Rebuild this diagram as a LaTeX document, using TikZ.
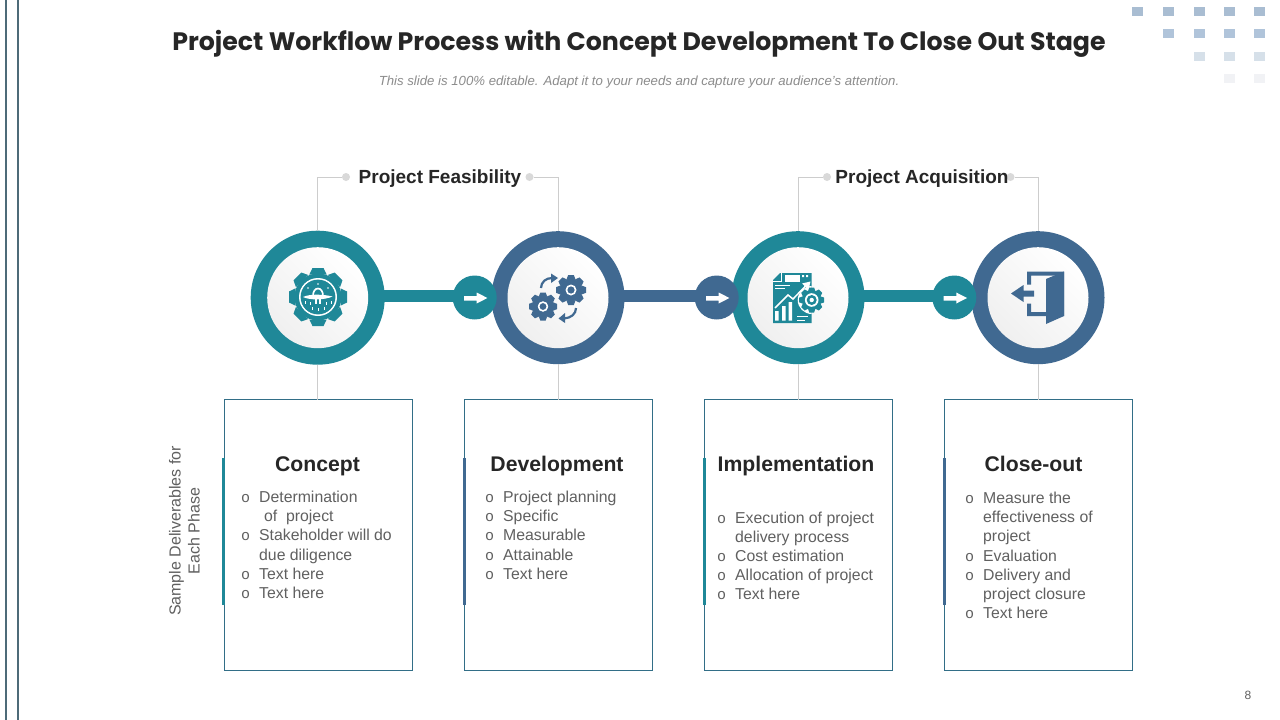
\documentclass[tikz,border=0pt]{standalone}
\usepackage{fontspec}
\setmainfont{Liberation Sans}
\newfontfamily\titlefont{Poppins}
\newfontfamily\bulfont{Liberation Mono}
\definecolor{tealc}{RGB}{31,136,152}
\definecolor{bluec}{RGB}{64,105,145}
\definecolor{greyl}{RGB}{205,205,205}
\definecolor{dotc}{RGB}{217,217,217}
\definecolor{bodyc}{RGB}{96,96,96}
\definecolor{headc}{RGB}{38,38,38}
\definecolor{railc}{RGB}{77,107,120}
\definecolor{boxc}{RGB}{50,110,135}
\definecolor{sqa}{RGB}{169,189,210}
\definecolor{sqb}{RGB}{176,196,218}
\definecolor{sqc}{RGB}{214,224,233}
\definecolor{sqd}{RGB}{241,242,245}
\tikzset{
  ring/.style={circle,minimum size=#1,inner sep=0pt,outer sep=0pt},
  disc/.style={circle,minimum size=101pt,inner sep=0pt,outer sep=0pt,shading=axis,left color=white,right color=white!94!black,shading angle=315},
  hop/.style={circle,minimum size=44pt,inner sep=0pt,outer sep=0pt,fill=#1},
  bar/.style={line width=12pt,#1},
  leader/.style={draw=greyl,line width=.9pt},
  tick/.style={circle,minimum size=8pt,inner sep=0pt,fill=dotc},
  card/.style={draw=boxc,line width=.9pt,fill=white,minimum width=188pt,minimum height=271pt,inner sep=0pt,outer sep=0pt},
  phase/.style={font=\fontsize{21.2}{25}\selectfont\bfseries,text=headc,inner sep=0pt,anchor=base},
  items/.style={font=\fontsize{15.8}{19.15}\selectfont,text=bodyc,align=left,anchor=north west,inner sep=0pt},
  group/.style={font=\fontsize{19}{23}\selectfont\bfseries,text=headc,inner sep=0pt,anchor=base},
  sq/.style={minimum width=11pt,minimum height=9pt,inner sep=0pt,fill=#1},
  whitearrow/.style={fill=white},
}
\newcommand{\bul}{\makebox[18pt][l]{\bulfont\fontsize{15}{15}\selectfont o}}
\newcommand{\ind}{\hspace*{18pt}}
% gear: center, tooth count, body r, tip r, hole r, colour
\newcommand{\gearicon}[6]{%
  \begin{scope}[shift={#1}]
    \fill[#6] (0,0) circle (#3);
    \foreach \a in {1,...,#2}{
      \fill[#6,rotate=\a*360/#2] (#3-1,-#4*.30) -- (#4,-#4*.19) -- (#4,#4*.19) -- (#3-1,#4*.30) -- cycle;
    }
    \fill[white] (0,0) circle (#5);
  \end{scope}}
% white arrow inside a hop
\newcommand{\hoparrow}[1]{%
  \fill[whitearrow,shift={(#1)}] (-10.7,-1.5) -- (2,-1.5) -- (2,-5) -- (12.7,0.5) -- (2,6) -- (2,3) -- (-10.7,3) -- cycle;}
\begin{document}
\begin{tikzpicture}[x=1pt,y=-1pt]
\useasboundingbox (0,0) rectangle (1280,720);
\fill[white] (0,0) rectangle (1280,720);
% rails
\fill[railc] (5,0) rectangle (7,720);
\fill[railc] (17,0) rectangle (19,720);
% corner squares
\foreach \c/\x in {1/1137.5,2/1168,3/1199,4/1229.5,5/1259.5}{
  \node[sq=sqa] (sa\c) at (\x,11.5) {};
}
\foreach \c/\x in {2/1168,3/1199,4/1229.5,5/1259.5}{
  \node[sq=sqb] (sb\c) at (\x,33.5) {};
}
\foreach \c/\x in {3/1199,4/1229.5,5/1259.5}{
  \node[sq=sqc] (sc\c) at (\x,56.5) {};
}
\foreach \c/\x in {4/1229.5,5/1259.5}{
  \node[sq=sqd] (sd\c) at (\x,78.5) {};
}
% title
\node[inner sep=0pt,text=headc] (title) at (639,43.5) {\titlefont\fontsize{25.25}{30}\selectfont\bfseries Project Workflow Process with Concept Development To Close Out Stage};
\node[inner sep=0pt,text=black!45] (sub) at (639,82) {\fontsize{13.2}{15}\selectfont\itshape This slide is 100\% editable. Adapt it to your needs and capture your audience's attention.};
% hops positions first
\coordinate (s1) at (380,296);
\coordinate (s2) at (620,296);
\coordinate (s3) at (860,296);
\coordinate (m1) at (474.7,297.5);
\coordinate (m2) at (716.7,297.5);
\coordinate (m3) at (954.3,297.5);
% bars
\draw[bar=tealc] (s1) -- (s1 -| m1);
\draw[bar=bluec] (s2) -- (s2 -| m2);
\draw[bar=tealc] (s3) -- (s3 -| m3);
% rings
\node[ring=134pt,fill=tealc] (c1) at (317.7,297.7) {};
\node[ring=133pt,fill=bluec] (c2) at (558,297.7) {};
\node[ring=133pt,fill=tealc] (c3) at (798,297.7) {};
\node[ring=133pt,fill=bluec] (c4) at (1038,297.7) {};
% hops
\node[hop=tealc] (h1) at (m1) {};
\node[hop=bluec] (h2) at (m2) {};
\node[hop=tealc] (h3) at (m3) {};
% discs
\node[disc] (d1) at (c1) {};
\node[disc] (d2) at (c2) {};
\node[disc] (d3) at (c3) {};
\node[disc] (d4) at (c4) {};
\hoparrow{h1}\hoparrow{h2}\hoparrow{h3}
% cards
\node[card,anchor=north west] (b1) at (224.5,399.7) {};
\node[card,anchor=north west] (b2) at (464.5,399.7) {};
\node[card,anchor=north west] (b3) at (704.5,399.7) {};
\node[card,anchor=north west] (b4) at (944.5,399.7) {};
\fill[tealc] (222,458) rectangle (225,605);
\fill[bluec] (462.5,458) rectangle (465.5,605);
\fill[tealc] (702.5,458) rectangle (705.5,605);
\fill[bluec] (942.5,458) rectangle (945.5,605);
% leaders
\draw[leader] (c1.south) -- (b1.north -| c1.south);
\draw[leader] (c2.south) -- (b2.north -| c2.south);
\draw[leader] (c3.south) -- (b3.north -| c3.south);
\draw[leader] (c4.south) -- (b4.north -| c4.south);
\node[tick] (t1) at (346,177) {};
\node[tick] (t2) at (529.5,177) {};
\node[tick] (t3) at (827,177) {};
\node[tick] (t4) at (1010.5,177) {};
\draw[leader] (c1.north) |- (t1);
\draw[leader] (c2.north) |- (t2);
\draw[leader] (c3.north) |- (t3);
\draw[leader] (c4.north) |- (t4);
\node[group] (g1) at (440,183) {Project Feasibility};
\node[group] (g2) at (922,183) {Project Acquisition};
% side label
\node[rotate=90,align=center,inner sep=0pt,text=bodyc,font=\fontsize{16}{19}\selectfont] (side) at (184.5,531) {Sample Deliverables for\\Each Phase};
% card text
\node[phase] (p1) at (317.5,471) {Concept};
\node[phase] (p2) at (557,471) {Development};
\node[phase] (p3) at (796,471) {Implementation};
\node[phase] (p4) at (1033.5,471) {Close-out};
\node[items] (l1) at (241,491) {\bul Determination\\\ind\hspace*{5pt}of\ \ project\\\bul Stakeholder will do\\\ind due diligence\\\bul Text here\\\bul Text here};
\node[items] (l2) at (485,491) {\bul Project planning\\\bul Specific\\\bul Measurable\\\bul Attainable\\\bul Text here};
\node[items] (l3) at (717,511.5) {\bul Execution of project\\\ind delivery process\\\bul Cost estimation\\\bul Allocation of project\\\bul Text here};
\node[items] (l4) at (965,492) {\bul Measure the\\\ind effectiveness of\\\ind project\\\bul Evaluation\\\bul Delivery and\\\ind project closure\\\bul Text here};
\node[inner sep=0pt,text=bodyc,font=\fontsize{12}{14}\selectfont] (pg) at (1248,695) {8};
% ---- icon 1
\gearicon{(318,297)}{8}{23.5}{29}{19}{tealc}
\fill[tealc] (318,297) circle (17.4);
\draw[white,line width=1.7pt] (313,296) .. controls (313,286) and (323,286) .. (323,296);
\draw[white,line width=1.5pt] (316.2,296) -- (316.2,304) (319.8,296) -- (319.8,304);
\fill[white] (303,297) .. controls (310,293.5) and (325,294.5) .. (332.5,296.5) .. controls (325,300) and (310,300.5) .. (303,297) -- cycle;
\foreach \x/\y in {305/301,310/302,326/302,331/301,312/307,318/308,324/307}{\draw[white,line width=1pt] (\x,\y) -- (\x,\y+3);}
\fill[white] (318,284) circle (.9) (308,288) circle (.8) (328,288) circle (.8);
% ---- icon 2
\gearicon{(571,290)}{8}{11.5}{15}{4}{bluec}
\fill[white] (571,290) circle (5.5); \fill[bluec] (571,290) circle (3.6);
\gearicon{(543,306.5)}{8}{11}{14}{5}{bluec}
\fill[white] (543,306.5) circle (5.2); \fill[bluec] (543,306.5) circle (3.4);
\draw[bluec,line width=2.2pt] (541,288) .. controls (541,282) and (546,278) .. (552,278);
\fill[bluec] (551,273.5) -- (558,278) -- (551,283) -- cycle;
\draw[bluec,line width=2.2pt] (576,308) .. controls (576,314) and (571,318) .. (564,318.5);
\fill[bluec] (565,313) -- (558.5,318.5) -- (565,323) -- cycle;
% ---- icon 3
\fill[tealc] (780,273) -- (811.7,273) -- (811.7,323) -- (773,323) -- (773,280) -- cycle;
\draw[white,line width=.9pt] (781.5,272.5) -- (781.5,281.5) -- (772.5,281.5);
\fill[white] (785,275) rectangle (800,282);
\fill[white] (802,275) rectangle (804,277) (806,275) rectangle (808,277);
\draw[white,line width=1pt] (775,285) -- (790,285) (775,288.5) -- (785,288.5);
\fill[white] (775,311) rectangle (778.5,320.5) (782,306) rectangle (785.5,320.5) (788.5,302) rectangle (792,320.5);
\draw[white,line width=1.5pt] (775,308) -- (788,295) -- (793,299) -- (806,285.5);
\fill[white] (810.5,281.5) -- (808.5,290) -- (802,283.5) -- cycle;
\begin{scope}
  \clip (773,273) rectangle (811.7,323);
  \fill[white] (811.7,300) circle (14);
\end{scope}
\gearicon{(811.7,300)}{8}{9.5}{12.5}{6.8}{tealc}
\fill[tealc] (811.7,300) circle (5); \fill[white] (811.7,300) circle (2.2);
\draw[white,line width=1pt] (797,316.5) -- (808,316.5) (797,320) -- (805,320);
% ---- icon 4
\fill[bluec] (1027,271.5) -- (1064,271.5) -- (1064,316) -- (1027,316) -- (1027,303.5) -- (1031,303.5) -- (1031,312) -- (1060,312) -- (1060,275.5) -- (1031,275.5) -- (1031,284.5) -- (1027,284.5) -- cycle;
\fill[bluec] (1046,279) -- (1064,271.5) -- (1064,316) -- (1046,324) -- cycle;
\fill[bluec] (1011,293.5) -- (1023.5,285) -- (1023.5,290.5) -- (1034,290.5) -- (1034,296.5) -- (1023.5,296.5) -- (1023.5,302) -- cycle;
\end{tikzpicture}
\end{document}
